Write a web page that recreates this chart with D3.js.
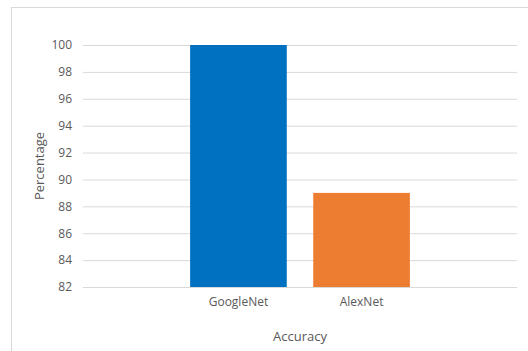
<!DOCTYPE html>
<html>
<head>
<meta charset="utf-8">
<script src="https://cdn.jsdelivr.net/npm/d3@7"></script>
<style>
  html, body { margin: 0; padding: 0; background: #fff; }
  svg { display: block; }
  text { font-family: "Open Sans", "Noto Sans", sans-serif; fill: #595959; }
</style>
</head>
<body>
<svg id="chart" width="528" height="351"></svg>
<script>
// Accuracy of each network (percent)
const models = ["GoogleNet", "AlexNet"];
const accuracy = [100, 89];
const barColors = ["#0070C0", "#ED7D31"];
const yTicks = [82, 84, 86, 88, 90, 92, 94, 96, 98, 100];

const svg = d3.select("#chart");
const plot = { left: 83, right: 517, top: 45, bottom: 287 };

// Chart frame
svg.append("rect")
  .attr("x", 11.5).attr("y", 7.5)
  .attr("width", 540).attr("height", 360)
  .attr("fill", "none").attr("stroke", "#d9d9d9");

const y = d3.scaleLinear().domain([82, 100]).range([plot.bottom, plot.top]);
const x = d3.scaleBand().domain(models)
  .range([plot.left, plot.right])
  .paddingInner(0.215).paddingOuter(0.87);

// Horizontal gridlines and tick labels
const yAxis = d3.axisLeft(y).tickValues(yTicks).tickSize(-(plot.right - plot.left)).tickPadding(11);
const gy = svg.append("g").attr("transform", `translate(${plot.left},0)`).call(yAxis);
gy.select(".domain").remove();
gy.selectAll(".tick line").attr("stroke", "#d9d9d9").attr("stroke-width", 1);
gy.selectAll(".tick text").attr("font-size", 12).attr("fill", "#595959");

// Bars
svg.append("g").selectAll("rect")
  .data(models)
  .join("rect")
  .attr("x", d => x(d))
  .attr("width", x.bandwidth())
  .attr("y", (d, i) => y(accuracy[i]))
  .attr("height", (d, i) => y(82) - y(accuracy[i]))
  .attr("fill", (d, i) => barColors[i]);

// Category labels
const xAxis = d3.axisBottom(x).tickSize(0).tickPadding(10);
const gx = svg.append("g").attr("transform", `translate(0,${plot.bottom})`).call(xAxis);
gx.select(".domain").remove();
gx.selectAll(".tick text").attr("font-size", 12).attr("fill", "#595959");

// Axis titles
svg.append("text")
  .attr("x", (plot.left + plot.right) / 2).attr("y", 341)
  .attr("text-anchor", "middle").attr("font-size", 13)
  .text("Accuracy");

svg.append("text")
  .attr("transform", `translate(44,${(plot.top + plot.bottom) / 2}) rotate(-90)`)
  .attr("text-anchor", "middle").attr("font-size", 13)
  .text("Percentage");
</script>
</body>
</html>
